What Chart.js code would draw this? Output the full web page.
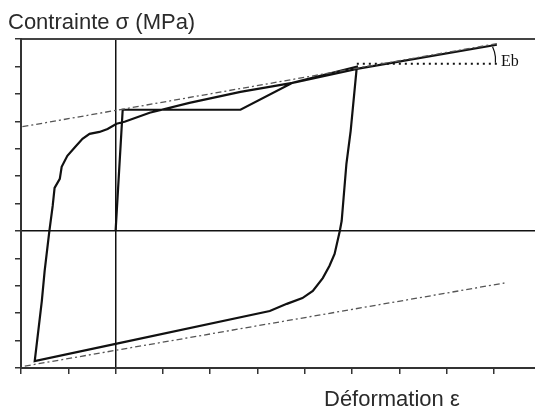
<!DOCTYPE html>
<html>
<head>
<meta charset="utf-8">
<script src="https://cdn.jsdelivr.net/npm/chart.js@4/dist/chart.umd.min.js"></script>
<style>
  html, body { margin: 0; padding: 0; background: #fff; }
  #wrap { width: 535px; height: 410px; }
</style>
</head>
<body>
<div id="wrap"><canvas id="cycle" width="535" height="410"></canvas></div>
<script>
// axes bounds (strain in ticks, stress in ticks)
const xMin = -2, xMax = 8.867;
const yMin = -5, yMax = 7;

// hysteresis loop: loading, plateau, hardening, unloading, reloading
const loopX = [0, 0.15, 2.64, 3.74, 5.10, 4.97, 4.88, 4.82, 4.78, 4.74, 4.63, 4.52, 4.38, 4.17, 3.95, 3.62, 3.26, 0, -1.71,
  -1.56, -1.50, -1.40, -1.33, -1.29, -1.18, -1.14, -1.02, -0.87, -0.70, -0.55, -0.34, -0.17, 0.02, 0.19, 0.72, 1.56, 2.64, 3.74, 5.10, 8.06];
const loopY = [0, 4.42, 4.42, 5.40, 5.99, 3.65, 2.45, 1.20, 0.37, 0, -0.84, -1.28, -1.72, -2.19, -2.45, -2.66, -2.92, -4.12, -4.75,
  -2.56, -1.46, 0, 0.91, 1.57, 1.90, 2.34, 2.74, 3.03, 3.36, 3.54, 3.61, 3.72, 3.91, 3.98, 4.31, 4.67, 5.07, 5.40, 5.91, 6.79];

// bounding lines (dash-dot)
const upperX = [-1.97, 8.06], upperY = [3.80, 6.83];
const lowerX = [-1.92, 8.22], lowerY = [-4.93, -1.90];

// Eb angle: horizontal reference and arc
const ebX = [5.10, 8.06], ebY = [6.10, 6.10];
const arcX = [7.97, 8.01, 8.03, 8.03], arcY = [6.72, 6.53, 6.35, 6.13];

const pts = (xs, ys) => xs.map((x, i) => ({ x, y: ys[i] }));

const labels = {
    id: 'labels',
    afterDraw(chart) {
        const ctx = chart.ctx;
        ctx.save();
        ctx.fillStyle = '#2a2a2a';
        ctx.textBaseline = 'alphabetic';
        ctx.textAlign = 'left';
        ctx.font = '22px "Liberation Sans", Arial, sans-serif';
        ctx.fillText('Contrainte σ (MPa)', 8, 29);
        ctx.fillText('Déformation ε', 324, 406);
        ctx.fillStyle = '#111';
        ctx.font = '16px "Liberation Serif", "Times New Roman", serif';
        ctx.fillText('Eb', 501, 66);
        ctx.restore();
    }
};

const lineSet = (data, color, width, dash) => ({
    data, showLine: true, pointRadius: 0, borderColor: color,
    borderWidth: width, borderDash: dash, fill: false, tension: 0
});

const zeroLine = (c) => c.tick && c.tick.value === 0 ? '#111' : 'rgba(0,0,0,0)';

new Chart(document.getElementById('cycle'), {
    type: 'scatter',
    data: {
        datasets: [
            lineSet(pts(upperX, upperY), '#555', 1.3, [6, 3, 2, 3]),
            lineSet(pts(lowerX, lowerY), '#555', 1.3, [6, 3, 2, 3]),
            lineSet(pts(ebX, ebY), '#111', 2, [2, 4]),
            lineSet(pts(arcX, arcY), '#111', 1.2, []),
            lineSet(pts(loopX, loopY), '#111', 2.2, [])
        ]
    },
    options: {
        responsive: false,
        animation: false,
        devicePixelRatio: 1,
        layout: { padding: { left: 15, right: 0, top: 39, bottom: 36 } },
        plugins: { legend: { display: false }, tooltip: { enabled: false } },
        scales: {
            x: {
                type: 'linear', min: xMin, max: xMax,
                ticks: { display: false, stepSize: 1, includeBounds: false },
                grid: { color: zeroLine, lineWidth: 1.5, tickColor: '#333', tickLength: 6, tickWidth: 1.5 },
                border: { color: '#333', width: 2 }
            },
            x2: {
                type: 'linear', position: 'top', min: xMin, max: xMax,
                ticks: { display: false },
                grid: { drawOnChartArea: false, drawTicks: false },
                border: { color: '#444', width: 2 }
            },
            y: {
                type: 'linear', min: yMin, max: yMax,
                ticks: { display: false, stepSize: 1 },
                grid: { color: zeroLine, lineWidth: 1.5, tickColor: '#333', tickLength: 6, tickWidth: 1.5 },
                border: { color: '#333', width: 2 }
            }
        }
    },
    plugins: [labels]
});
</script>
</body>
</html>
